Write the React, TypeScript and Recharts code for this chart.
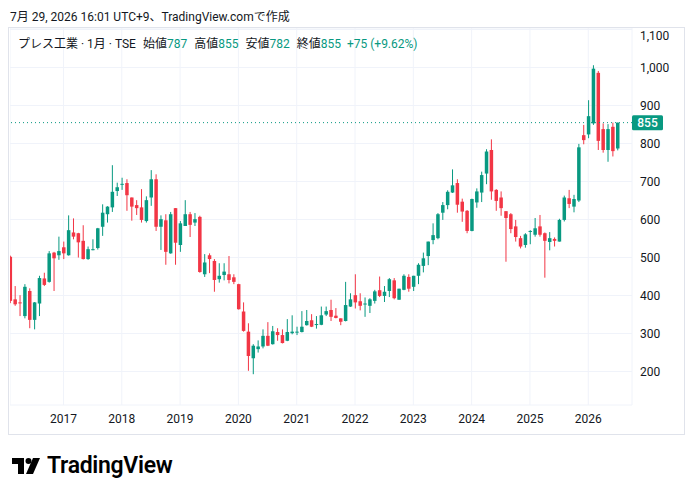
import { ComposedChart, Bar, XAxis, YAxis, CartesianGrid, ReferenceLine } from 'recharts';

// monthly candles, 2016-02 .. 2026-07
const months = [
  "2016-02", "2016-03", "2016-04", "2016-05", "2016-06", "2016-07", "2016-08", "2016-09", "2016-10", "2016-11", "2016-12",
  "2017-01", "2017-02", "2017-03", "2017-04", "2017-05", "2017-06", "2017-07", "2017-08", "2017-09", "2017-10", "2017-11", "2017-12",
  "2018-01", "2018-02", "2018-03", "2018-04", "2018-05", "2018-06", "2018-07", "2018-08", "2018-09", "2018-10", "2018-11", "2018-12",
  "2019-01", "2019-02", "2019-03", "2019-04", "2019-05", "2019-06", "2019-07", "2019-08", "2019-09", "2019-10", "2019-11", "2019-12",
  "2020-01", "2020-02", "2020-03", "2020-04", "2020-05", "2020-06", "2020-07", "2020-08", "2020-09", "2020-10", "2020-11", "2020-12",
  "2021-01", "2021-02", "2021-03", "2021-04", "2021-05", "2021-06", "2021-07", "2021-08", "2021-09", "2021-10", "2021-11", "2021-12",
  "2022-01", "2022-02", "2022-03", "2022-04", "2022-05", "2022-06", "2022-07", "2022-08", "2022-09", "2022-10", "2022-11", "2022-12",
  "2023-01", "2023-02", "2023-03", "2023-04", "2023-05", "2023-06", "2023-07", "2023-08", "2023-09", "2023-10", "2023-11", "2023-12",
  "2024-01", "2024-02", "2024-03", "2024-04", "2024-05", "2024-06", "2024-07", "2024-08", "2024-09", "2024-10", "2024-11", "2024-12",
  "2025-01", "2025-02", "2025-03", "2025-04", "2025-05", "2025-06", "2025-07", "2025-08", "2025-09", "2025-10", "2025-11", "2025-12",
  "2026-01", "2026-02", "2026-03", "2026-04", "2026-05", "2026-06", "2026-07",
];

const opens = [
  502, 390, 382, 346, 412, 336, 379, 445, 436, 513, 506,
  527, 506, 566, 564, 544, 496, 520, 525, 581, 614, 632, 675,
  692, 696, 658, 638, 632, 596, 658, 706, 581, 598, 511, 630,
  533, 583, 614, 592, 607, 456, 506, 491, 443, 454, 456, 448,
  430, 358, 305, 235, 259, 266, 294, 272, 304, 296, 281, 301,
  303, 304, 322, 335, 323, 323, 350, 362, 347, 340, 333, 371,
  401, 385, 378, 373, 386, 414, 399, 412, 440, 389, 415, 449,
  423, 452, 478, 504, 546, 551, 618, 638, 671, 696, 647, 623,
  570, 645, 671, 721, 783, 678, 658, 622, 614, 582, 551, 533,
  569, 560, 582, 564, 541, 549, 542, 599, 656, 634, 650, 822,
  824, 853, 986, 838, 783, 844, 787,
];

const highs = [
  505, 425, 401, 430, 419, 383, 452, 460, 517, 515, 555,
  542, 611, 603, 565, 585, 529, 548, 578, 640, 635, 743, 697,
  710, 706, 658, 651, 680, 661, 730, 719, 611, 614, 620, 630,
  596, 651, 620, 617, 610, 509, 511, 496, 485, 485, 504, 456,
  431, 382, 327, 272, 282, 311, 330, 320, 314, 311, 338, 348,
  318, 359, 362, 351, 346, 371, 371, 389, 367, 340, 436, 406,
  456, 406, 395, 393, 415, 450, 425, 446, 446, 418, 456, 456,
  452, 485, 513, 542, 590, 617, 646, 677, 732, 706, 655, 625,
  655, 682, 726, 785, 811, 680, 674, 622, 617, 599, 557, 564,
  572, 604, 612, 566, 567, 553, 602, 663, 678, 665, 799, 849,
  914, 1006, 991, 853, 851, 855, 855,
];

const lows = [
  380, 373, 346, 340, 314, 311, 346, 425, 434, 412, 494,
  496, 505, 548, 500, 495, 494, 519, 521, 557, 592, 620, 662,
  678, 623, 597, 612, 592, 592, 636, 570, 520, 481, 510, 481,
  515, 583, 554, 583, 460, 449, 459, 410, 434, 440, 432, 430,
  363, 305, 202, 193, 250, 261, 267, 271, 281, 274, 280, 298,
  296, 303, 321, 317, 313, 322, 346, 333, 340, 322, 332, 370,
  366, 361, 344, 354, 379, 396, 383, 396, 390, 389, 414, 410,
  412, 430, 461, 480, 535, 548, 599, 627, 670, 618, 594, 564,
  569, 631, 646, 693, 652, 623, 610, 489, 564, 542, 524, 526,
  535, 555, 555, 447, 519, 529, 542, 595, 630, 619, 646, 798,
  814, 849, 783, 776, 752, 766, 782,
];

const closes = [
  386, 377, 380, 423, 336, 382, 446, 428, 511, 498, 517,
  511, 572, 555, 540, 496, 522, 522, 577, 618, 634, 673, 685,
  694, 664, 634, 630, 599, 651, 706, 581, 601, 515, 614, 539,
  590, 614, 586, 601, 462, 487, 496, 441, 452, 463, 441, 436,
  364, 307, 241, 268, 266, 294, 268, 306, 296, 275, 304, 305,
  305, 318, 333, 318, 325, 348, 359, 344, 341, 331, 375, 390,
  382, 373, 379, 390, 411, 399, 410, 443, 393, 418, 452, 418,
  452, 481, 498, 542, 559, 614, 638, 673, 690, 639, 621, 570,
  654, 674, 717, 779, 674, 649, 630, 604, 575, 554, 529, 561,
  570, 577, 560, 544, 551, 544, 599, 658, 641, 654, 790, 809,
  872, 997, 807, 783, 838, 780, 855,
];

const priceTicks = [200, 300, 400, 500, 600, 700, 800, 900, 1000, 1100];
const lastPrice = 855;

const UP = '#089981';
const DOWN = '#F23645';
const TEXT = '#131722';
const GRID = '#f0f3fa';
const FONT = "Roboto, 'Noto Sans CJK JP', sans-serif";

const data = months.map((m, i) => ({
  t: i,
  month: m,
  open: opens[i],
  high: highs[i],
  low: lows[i],
  close: closes[i],
  range: [lows[i], highs[i]],
}));

const yearTicks = months.map((m, i) => (m.endsWith('-01') ? i : -1)).filter((i) => i >= 0);

const Candle = (props: any) => {
  const { x, y, width, height, payload } = props;
  if (x == null || y == null) return null;
  const { open, close, high, low } = payload;
  const color = close >= open ? UP : DOWN;
  const top = Math.min(y, y + height);
  const h = Math.abs(height);
  const ratio = high === low ? 0 : h / (high - low);
  const cx = x + width / 2;
  const bodyTop = top + (high - Math.max(open, close)) * ratio;
  const bodyBottom = top + (high - Math.min(open, close)) * ratio;
  return (
    <g>
      <line x1={cx} x2={cx} y1={top} y2={top + h} stroke={color} strokeWidth={1} />
      <rect x={x} y={bodyTop} width={width} height={Math.max(1, bodyBottom - bodyTop)} fill={color} />
    </g>
  );
};

const PriceLabel = (props: any) => {
  const { viewBox } = props;
  const x = viewBox.x + viewBox.width;
  const y = viewBox.y;
  return (
    <g>
      <rect x={x} y={y - 7.5} width={31} height={15} rx={1.5} fill={UP} />
      <text x={x + 15.5} y={y + 4.5} textAnchor="middle" fill="#fff" fontSize={12} fontWeight={500} fontFamily={FONT}>
        {lastPrice}
      </text>
    </g>
  );
};

const Legend = () => (
  <div style={{ position: 'absolute', left: 18, top: 34, fontSize: 12, whiteSpace: 'nowrap', color: TEXT }}>
    <span>プレス工業 · 1月 · TSE</span>
    <span style={{ marginLeft: 7 }}>始値</span><span style={{ color: UP }}>{opens[opens.length - 1]}</span>
    <span style={{ marginLeft: 7 }}>高値</span><span style={{ color: UP }}>{highs[highs.length - 1]}</span>
    <span style={{ marginLeft: 7 }}>安値</span><span style={{ color: UP }}>{lows[lows.length - 1]}</span>
    <span style={{ marginLeft: 7 }}>終値</span><span style={{ color: UP }}>{closes[closes.length - 1]}</span>
    <span style={{ marginLeft: 6, color: UP }}>+75 (+9.62%)</span>
  </div>
);

const Logo = () => (
  <div style={{ position: 'absolute', left: 12, top: 452, display: 'flex', alignItems: 'center' }}>
    <svg width={30} height={20} viewBox="0 0 30 20">
      <rect x={0} y={2} width={12} height={6} fill="#000" />
      <rect x={6} y={2} width={6} height={16} fill="#000" />
      <circle cx={16.5} cy={5} r={3} fill="#000" />
      <polygon points="21,2 28,2 21,18 14,18" fill="#000" />
    </svg>
    <span style={{ marginLeft: 5, fontSize: 23, fontWeight: 600, color: '#000', letterSpacing: -0.3 }}>TradingView</span>
  </div>
);

export default function App() {
  return (
    <div style={{ position: 'absolute', left: 0, top: 0, width: 693, height: 494, background: '#fff', fontFamily: FONT, color: TEXT }}>
      <div style={{ position: 'absolute', left: 10, top: 7, fontSize: 12, whiteSpace: 'nowrap' }}>
        7月 29, 2026 16:01 UTC+9、TradingView.comで作成
      </div>
      <div style={{ position: 'absolute', left: 8, top: 27, width: 677, height: 408, border: '1.5px solid #e0e3eb', boxSizing: 'border-box' }} />
      <div style={{ position: 'absolute', left: 10, top: 28, width: 674, height: 405, overflow: 'hidden' }}>
        <ComposedChart width={674} height={405} data={data} margin={{ top: 0, right: 0, bottom: 0, left: 0 }}>
          <CartesianGrid stroke={GRID} strokeWidth={1} />
          <XAxis
            type="number"
            dataKey="t"
            domain={[0, 128]}
            ticks={yearTicks}
            tickFormatter={(t: number) => months[t].slice(0, 4)}
            allowDataOverflow
            height={28}
            tickLine={false}
            axisLine={false}
            tickMargin={3}
            tick={{ fill: TEXT, fontSize: 12, fontFamily: FONT }}
          />
          <YAxis
            orientation="right"
            type="number"
            domain={[112, 1104]}
            ticks={priceTicks}
            allowDataOverflow
            width={52}
            tickLine={false}
            axisLine={false}
            tickMargin={2}
            tickFormatter={(v: number) => v.toLocaleString('en-US')}
            tick={{ fill: TEXT, fontSize: 12, fontFamily: FONT, textAnchor: 'start' }}
          />
          <ReferenceLine y={lastPrice} stroke={UP} strokeDasharray="1 3" strokeWidth={1} label={<PriceLabel />} />
          <Bar dataKey="range" barSize={3.5} shape={<Candle />} isAnimationActive={false} />
        </ComposedChart>
      </div>
      <Legend />
      <Logo />
    </div>
  );
}
